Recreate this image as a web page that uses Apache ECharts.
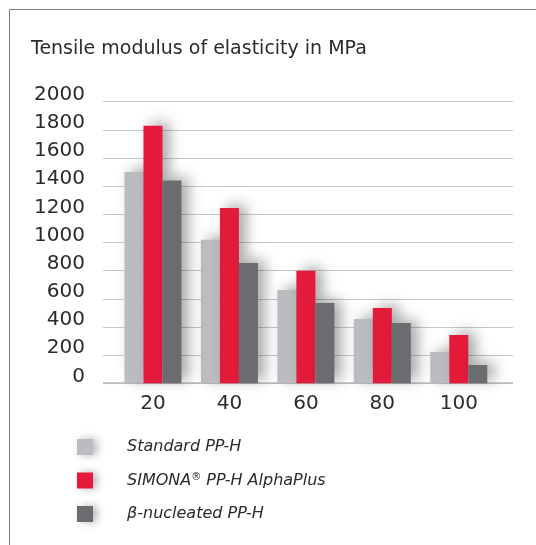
<!DOCTYPE html>
<html><head><meta charset="utf-8">
<script src="https://cdn.jsdelivr.net/npm/echarts@6/dist/echarts.min.js"></script>
<style>html,body{margin:0;padding:0;background:#fff}#c{width:536px;height:545px}</style>
</head><body><div id="c"></div>
<script>
const categories = ['20', '40', '60', '80', '100'];
const seriesNames = ['Standard PP-H', 'SIMONA® PP-H AlphaPlus', 'β-nucleated PP-H'];
const standardPPH = [1500, 1020, 662, 456, 222];
const alphaPlus = [1830, 1245, 800, 534, 343];
const betaNucleated = [1440, 855, 570, 428, 130];
const yTicks = [0, 200, 400, 600, 800, 1000, 1200, 1400, 1600, 1800, 2000];
const colors = ['#bbbcc0', '#e31b3b', '#6b6c70'];

const chart = echarts.init(document.getElementById('c'));
const font = '"DejaVu Sans", sans-serif';
const shadow = {shadowColor: 'rgba(0,0,0,0.35)', shadowBlur: 14, shadowOffsetX: 7, shadowOffsetY: -3};
const values = [standardPPH, alphaPlus, betaNucleated];
chart.setOption({
  animation: false,
  graphic: [{type: 'rect', shape: {x: 9.5, y: 9.5, width: 600, height: 600}, style: {fill: 'none', stroke: '#7a7a7a', lineWidth: 1}}],
  title: {text: 'Tensile modulus of elasticity in MPa', left: 31, top: 40, padding: 0,
    textStyle: {fontFamily: font, fontSize: 19, fontWeight: 'normal', color: '#2b2b2b'}},
  grid: [
    {left: 103, right: 23, top: 101.7, bottom: 161.7},
    {left: 114.75, right: 39, top: 101.7, bottom: 161.7}
  ],
  xAxis: [
    {gridIndex: 0, type: 'value', min: 0, max: 1, show: true, axisLine: {show: false}, axisTick: {show: false}, axisLabel: {show: false}, splitLine: {show: false}},
    {gridIndex: 1, type: 'category', data: categories, axisLine: {show: false}, axisTick: {show: false},
      axisLabel: {fontFamily: font, fontSize: 20, color: '#2b2b2b', margin: 10}}
  ],
  yAxis: [
    {gridIndex: 0, type: 'value', min: yTicks[0], max: yTicks[yTicks.length - 1], interval: 200,
      axisLine: {show: false}, axisTick: {show: false},
      axisLabel: {fontFamily: font, fontSize: 20, color: '#2b2b2b', margin: 18, formatter: v => String(v),
        verticalAlign: 'bottom', lineHeight: 14},
      splitLine: {lineStyle: {color: '#c8c8ca', width: 1}}},
    {gridIndex: 1, type: 'value', min: 0, max: 2000, show: false}
  ],
  legend: {orient: 'vertical', left: 77, top: 439, padding: 0, itemWidth: 16, itemHeight: 16, itemGap: 17.5,
    icon: 'rect', data: seriesNames,
    formatter: n => n.replace('®', '{r|®}'),
    textStyle: {fontFamily: font, fontSize: 16, fontStyle: 'italic', color: '#2b2b2b', padding: [0, 0, 0, 29],
      rich: {r: {fontFamily: font, fontSize: 10, fontStyle: 'italic', color: '#2b2b2b', verticalAlign: 'top', padding: [0, 0, 6, 0]}}},
    itemStyle: {shadowColor: 'rgba(0,0,0,0.3)', shadowBlur: 8, shadowOffsetX: 4}
  },
  series: [
    {type: 'line', xAxisIndex: 0, yAxisIndex: 0, data: [[0, 0], [1, 0]], symbol: 'none', silent: true,
      lineStyle: {color: '#bdbdbf', width: 2}, z: 1},
  ].concat(seriesNames.map((n, i) => ({
    name: n, type: 'bar', xAxisIndex: 1, yAxisIndex: 1, data: values[i], barWidth: 19, barGap: '0%',
    itemStyle: Object.assign({color: colors[i]}, shadow), z: 2 + i
  })))
});
</script></body></html>
